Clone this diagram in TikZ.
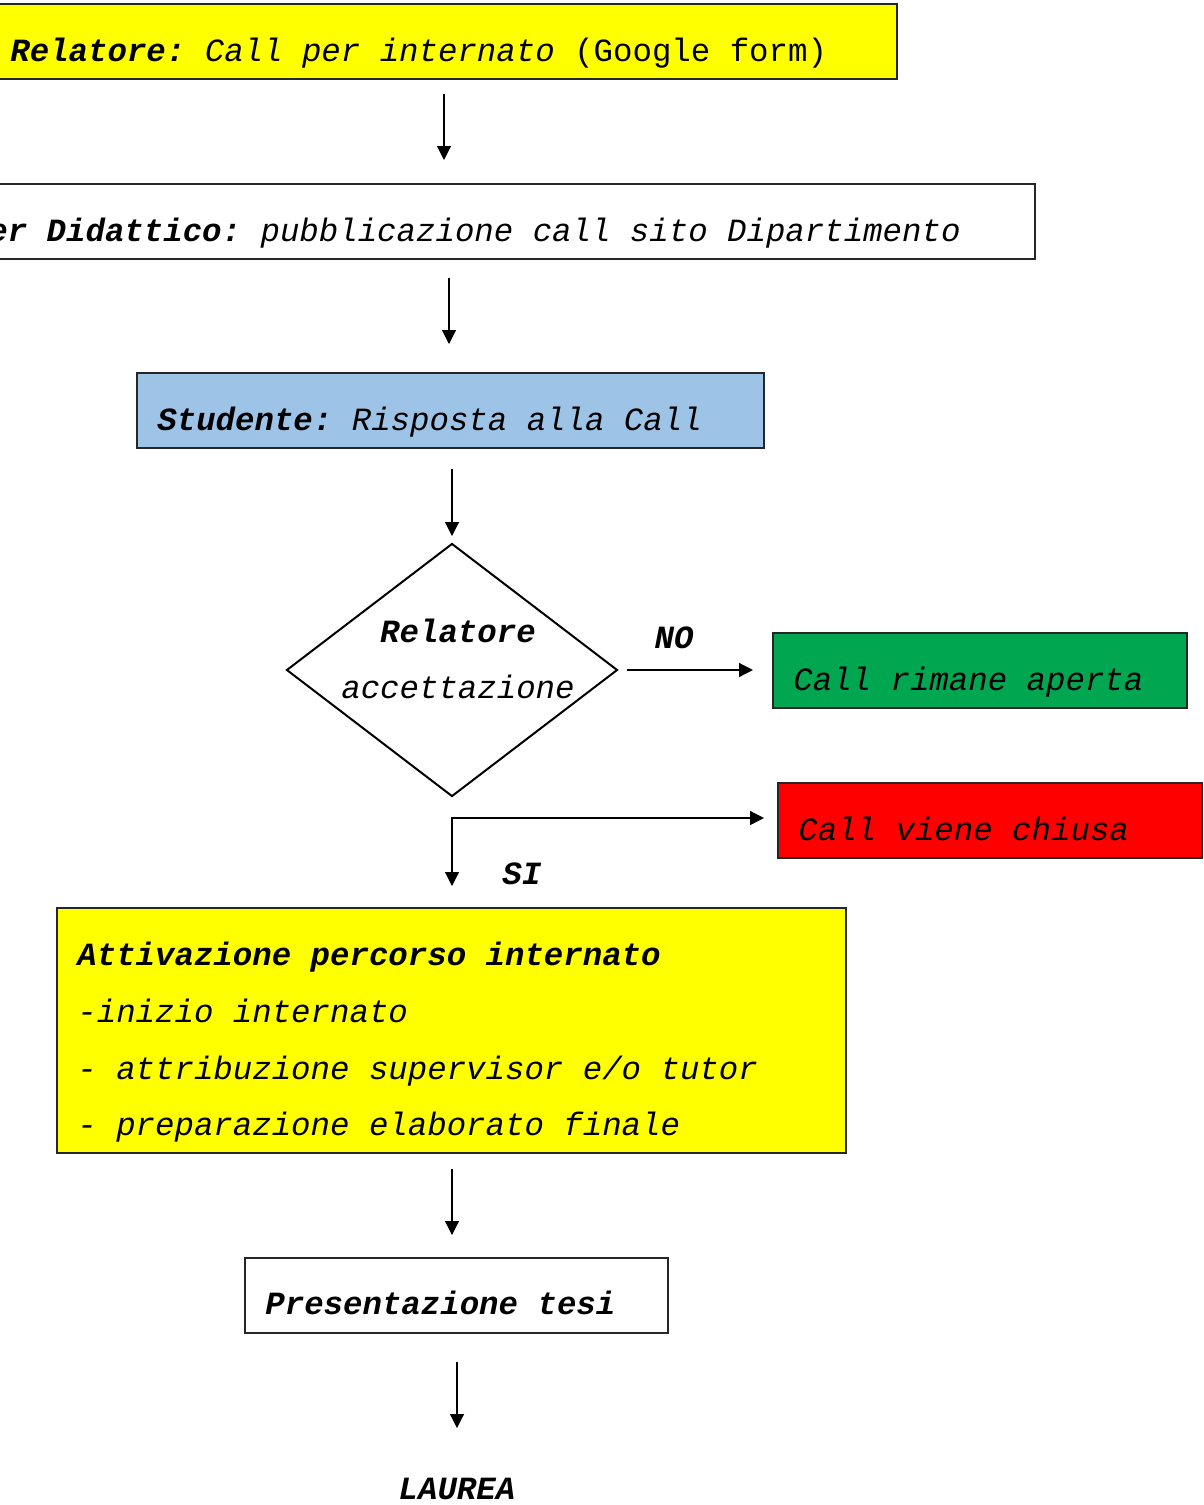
\documentclass[tikz,border=0pt]{standalone}
\usepackage{fontspec}
\setmainfont{Liberation Mono}
\usetikzlibrary{arrows.meta,fit,shapes.geometric}

\definecolor{callyellow}{HTML}{FFFF00}
\definecolor{callblue}{HTML}{9DC3E6}
\definecolor{callgreen}{HTML}{00A650}
\definecolor{callred}{HTML}{FF0000}

\tikzset{
    box/.style={draw=black!85, line width=0.6pt, inner sep=0pt},
    txt/.style={inner sep=0pt, anchor=base west},
    arr/.style={line width=0.6pt, -{Triangle[length=7pt,width=7pt]}},
}
\newcommand{\bi}[1]{{\bfseries\itshape #1}}
\frenchspacing

\begin{document}
\begin{tikzpicture}[x=0.5pt, y=-0.5pt]
    \useasboundingbox (0,0) rectangle (1204,1505);
    \clip (0,0) rectangle (1204,1505);
    \fontsize{16.2}{19}\selectfont

    % boxes
    \node[box, fill=callyellow, fit={(-2,4) (897,79)}] (call) {};
    \node[box, fill=white, fit={(-2,184) (1035,259)}] (pub) {};
    \node[box, fill=callblue, fit={(137,373) (764,448)}] (stud) {};
    \node[diamond, draw, line width=1pt, inner sep=0pt,
          minimum width=165.5pt, minimum height=126.5pt] (acc) at (452,670) {};
    \node[box, fill=callgreen, fit={(773,633) (1187,708)}] (open) {};
    \node[box, fill=callred, fit={(778,783) (1202,858)}] (closed) {};
    \node[box, fill=callyellow, fit={(57,908) (846,1153)}] (att) {};
    \node[box, fill=white, fit={(245,1258) (668,1333)}] (tesi) {};

    % texts
    \node[txt] (calltxt) at (10,61) {\bi{Relatore:} {\itshape Call per internato} (Google form)};
    \node[txt] (pubtxt) at (-12,241) {\bi{er Didattico:} {\itshape pubblicazione call sito Dipartimento}};
    \node[txt] (studtxt) at (157,430) {\bi{Studente:} {\itshape Risposta alla Call}};
    \node[inner sep=0pt, anchor=base] (acc1) at (458,642) {\bi{Relatore}};
    \node[inner sep=0pt, anchor=base] (acc2) at (458,698) {\itshape accettazione};
    \node[inner sep=0pt, anchor=base] (no) at (674,648) {\bi{NO}};
    \node[txt] (opentxt) at (793,690) {\itshape Call rimane aperta};
    \node[txt] (closedtxt) at (798,840) {\itshape Call viene chiusa};
    \node[txt] (si) at (502,884) {\bi{SI}};
    \node[txt] (att1) at (77,965) {\bi{Attivazione percorso internato}};
    \node[txt] (att2) at (77,1022) {\itshape -inizio internato};
    \node[txt] (att3) at (77,1079) {\itshape - attribuzione supervisor e/o tutor};
    \node[txt] (att4) at (77,1135) {\itshape - preparazione elaborato finale};
    \node[txt] (tesitxt) at (265,1314) {\bi{Presentazione tesi}};
    \node[inner sep=0pt, anchor=base] (laurea) at (457,1499) {\bi{LAUREA}};

    % arrow ends
    \coordinate (c1) at (444,94);
    \coordinate (c2) at (444,160);
    \coordinate (p1) at (449,278);
    \coordinate (p2) at (449,344);
    \coordinate (s1) at (452,469);
    \coordinate (s2) at (452,536);
    \coordinate (n1) at (627,670);
    \coordinate (n2) at (753,670);
    \coordinate (y1) at (452,886);
    \coordinate (y2) at (764,818);
    \coordinate (a1) at (452,1169);
    \coordinate (a2) at (452,1235);
    \coordinate (t1) at (457,1362);
    \coordinate (t2) at (457,1428);

    \draw[arr] (c1) -- (c2);
    \draw[arr] (p1) -- (p2);
    \draw[arr] (s1) -- (s2);
    \draw[arr] (n1) -- (n2);
    \draw[arr, {Triangle[length=7pt,width=7pt]}-{Triangle[length=7pt,width=7pt]}] (y1) |- (y2);
    \draw[arr] (a1) -- (a2);
    \draw[arr] (t1) -- (t2);
\end{tikzpicture}
\end{document}
